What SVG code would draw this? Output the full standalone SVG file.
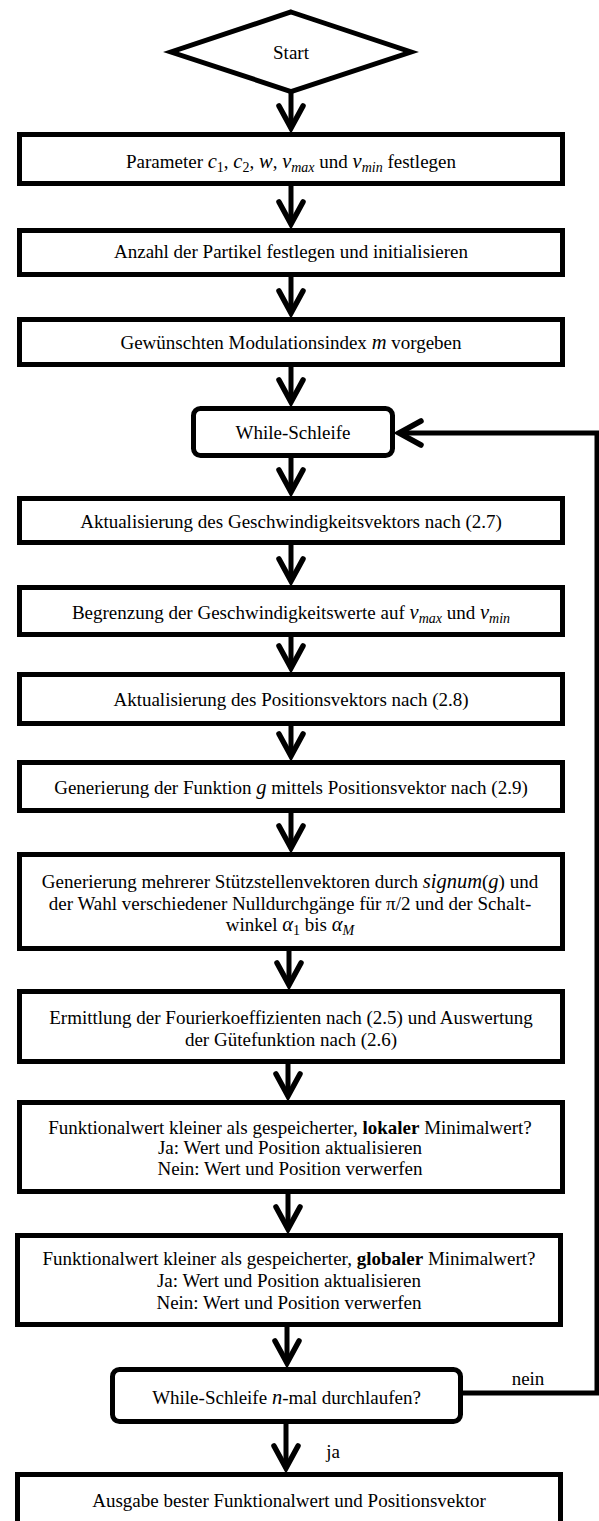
<svg xmlns="http://www.w3.org/2000/svg" width="599" height="1521" viewBox="0 0 599 1521">
<defs>
<style>
.box{fill:#fff;stroke:#000;stroke-width:5}
.t{font-family:"Liberation Serif","Times New Roman",serif;font-size:19px;fill:#000;text-anchor:middle}
.m{font-style:italic;font-size:20.5px}
.s{font-size:14px}
.b{font-weight:bold}
.edge{fill:none;stroke:#000;stroke-width:5;stroke-linejoin:miter;marker-end:url(#arr)}
</style>
<marker id="arr" markerUnits="userSpaceOnUse" viewBox="-30 -18 40 36" refX="0" refY="0" markerWidth="40" markerHeight="36" orient="auto" overflow="visible">
<path d="M-22,-12 L0,0 L-22,12" fill="none" stroke="#000" stroke-width="5.5" stroke-linecap="round" stroke-linejoin="miter"/>
</marker>
</defs>
<rect width="599" height="1521" fill="#fff"/>

<g id="connectors">
<path class="edge" d="M291,92 V128"/>
<path class="edge" d="M291,186 V224"/>
<path class="edge" d="M291,277 V313"/>
<path class="edge" d="M291,367 V402"/>
<path class="edge" d="M291,458 V492"/>
<path class="edge" d="M291,545 V581"/>
<path class="edge" d="M291,637 V668"/>
<path class="edge" d="M291,726 V756"/>
<path class="edge" d="M291,813 V848"/>
<path class="edge" d="M289,951 V985"/>
<path class="edge" d="M288,1064 V1096"/>
<path class="edge" d="M288,1194 V1229"/>
<path class="edge" d="M287,1327 V1363"/>
<path class="edge" d="M286,1424 V1468"/>
<path class="edge" d="M463,1393 H597 V433 H399"/>
<text class="t" x="528" y="1384.5">nein</text>
<text class="t" x="333" y="1457.5">ja</text>
</g>

<g id="start">
<polygon class="box" points="291,12 411,52 291,91.5 171,52"/>
<text class="t" x="291" y="58.5">Start</text>
</g>

<g id="n1">
<rect class="box" x="19.5" y="134.5" width="543" height="49"/>
<text class="t" x="291" y="167.5">Parameter <tspan class="m">c</tspan><tspan class="s" dy="4">1</tspan><tspan dy="-4">, </tspan><tspan class="m">c</tspan><tspan class="s" dy="4">2</tspan><tspan dy="-4">, </tspan><tspan class="m">w</tspan>, <tspan class="m">v</tspan><tspan class="s m" dy="4">max</tspan><tspan dy="-4"> und </tspan><tspan class="m">v</tspan><tspan class="s m" dy="4">min</tspan><tspan dy="-4"> festlegen</tspan></text>
</g>

<g id="n2">
<rect class="box" x="19.5" y="230.5" width="543" height="44"/>
<text class="t" x="291" y="257.5">Anzahl der Partikel festlegen und initialisieren</text>
</g>

<g id="n3">
<rect class="box" x="19.5" y="319.5" width="543" height="45"/>
<text class="t" x="291" y="348.5">Gewünschten Modulationsindex <tspan class="m">m</tspan> vorgeben</text>
</g>

<g id="while">
<rect class="box" x="193.5" y="408.5" width="199" height="47" rx="7"/>
<text class="t" x="293" y="439">While-Schleife</text>
</g>

<g id="n4">
<rect class="box" x="19.5" y="498.5" width="543" height="44"/>
<text class="t" x="291" y="528">Aktualisierung des Geschwindigkeitsvektors nach (2.7)</text>
</g>

<g id="n5">
<rect class="box" x="19.5" y="587.5" width="543" height="47"/>
<text class="t" x="291" y="619">Begrenzung der Geschwindigkeitswerte auf <tspan class="m">v</tspan><tspan class="s m" dy="4">max</tspan><tspan dy="-4"> und </tspan><tspan class="m">v</tspan><tspan class="s m" dy="4">min</tspan></text>
</g>

<g id="n6">
<rect class="box" x="19.5" y="674.5" width="543" height="49"/>
<text class="t" x="291" y="706">Aktualisierung des Positionsvektors nach (2.8)</text>
</g>

<g id="n7">
<rect class="box" x="19.5" y="762.5" width="543" height="48"/>
<text class="t" x="291" y="794">Generierung der Funktion <tspan class="m">g</tspan> mittels Positionsvektor nach (2.9)</text>
</g>

<g id="n8">
<rect class="box" x="19.5" y="854.5" width="543" height="94"/>
<text class="t" x="290" y="888">Generierung mehrerer Stützstellenvektoren durch <tspan class="m">signum</tspan>(<tspan class="m">g</tspan>) und</text>
<text class="t" x="290" y="909.5">der Wahl verschiedener Nulldurchgänge für π/2 und der Schalt-</text>
<text class="t" x="290" y="931">winkel <tspan class="m">α</tspan><tspan class="s" dy="4">1</tspan><tspan dy="-4"> bis </tspan><tspan class="m">α</tspan><tspan class="s m" dy="4">M</tspan></text>
</g>

<g id="n9">
<rect class="box" x="19.5" y="991.5" width="543" height="70"/>
<text class="t" x="291" y="1023.5">Ermittlung der Fourierkoeffizienten nach (2.5) und Auswertung</text>
<text class="t" x="291" y="1045.5">der Gütefunktion nach (2.6)</text>
</g>

<g id="n10">
<rect class="box" x="19.5" y="1102.5" width="543" height="89"/>
<text class="t" x="290" y="1133.5">Funktionalwert kleiner als gespeicherter, <tspan class="b">lokaler</tspan> Minimalwert?</text>
<text class="t" x="290" y="1154">Ja: Wert und Position aktualisieren</text>
<text class="t" x="290" y="1174.5">Nein: Wert und Position verwerfen</text>
</g>

<g id="n11">
<rect class="box" x="17.5" y="1235.5" width="543" height="89"/>
<text class="t" x="289" y="1264.5">Funktionalwert kleiner als gespeicherter, <tspan class="b">globaler</tspan> Minimalwert?</text>
<text class="t" x="289" y="1286.5">Ja: Wert und Position aktualisieren</text>
<text class="t" x="289" y="1308.5">Nein: Wert und Position verwerfen</text>
</g>

<g id="check">
<rect class="box" x="112.5" y="1369.5" width="348" height="52" rx="7"/>
<text class="t" x="286.5" y="1403.5">While-Schleife <tspan class="m">n</tspan>-mal durchlaufen?</text>
</g>

<g id="out">
<rect class="box" x="17.5" y="1474.5" width="543" height="60"/>
<text class="t" x="289" y="1506.5">Ausgabe bester Funktionalwert und Positionsvektor</text>
</g>
</svg>
